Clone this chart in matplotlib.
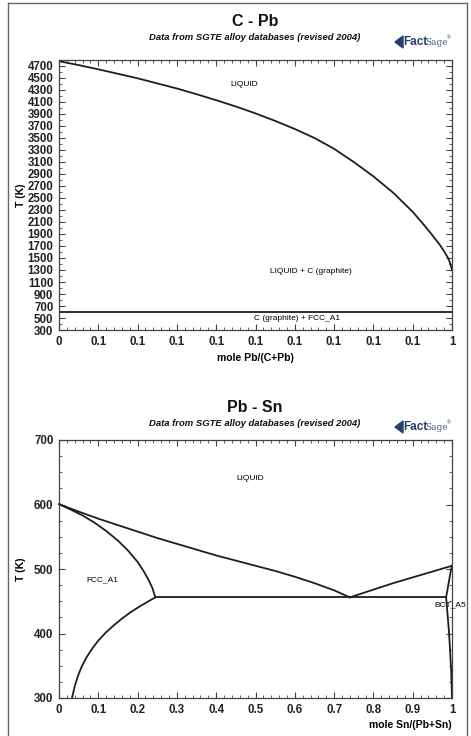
import matplotlib
matplotlib.use("Agg")
import matplotlib.pyplot as plt
from matplotlib import font_manager
from matplotlib.lines import Line2D
from matplotlib.patches import Polygon
from matplotlib.ticker import MultipleLocator, FixedLocator

# ---- C - Pb data ----
cpb_liq_x = [0.0, 0.05, 0.1, 0.15, 0.2, 0.25, 0.3, 0.35, 0.4, 0.45, 0.5, 0.55, 0.6,
             0.65, 0.7, 0.75, 0.8, 0.85, 0.9, 0.93, 0.95, 0.97, 0.98, 0.99, 0.995, 1.0]
cpb_liq_t = [4780, 4715, 4645, 4570, 4495, 4410, 4325, 4230, 4130, 4025, 3910, 3785, 3650,
             3500, 3320, 3100, 2860, 2590, 2270, 2040, 1880, 1710, 1610, 1500, 1420, 1300]
cpb_eut_t = 600.6
cpb_xticks = [0.0, 0.1, 0.2, 0.3, 0.4, 0.5, 0.6, 0.7, 0.8, 0.9, 1.0]
cpb_xticklabels = ["0", "0.1", "0.1", "0.1", "0.1", "0.1", "0.1", "0.1", "0.1", "0.1", "1"]
cpb_yticks = list(range(300, 4701, 200))

# ---- Pb - Sn data ----
pbsn_liq_left_x = [0.0, 0.05, 0.1, 0.15, 0.2, 0.25, 0.3, 0.35, 0.4, 0.45, 0.5,
                   0.55, 0.6, 0.65, 0.7, 0.74]
pbsn_liq_left_t = [600.6, 589, 578, 568, 558, 548, 539, 530, 521, 513, 505,
                   497, 488, 478, 467, 456]
pbsn_sol_fcc_x = [0.0, 0.03, 0.06, 0.09, 0.12, 0.15, 0.175, 0.2, 0.215, 0.228, 0.238, 0.245]
pbsn_sol_fcc_t = [600.6, 592, 583, 572, 559, 544, 529, 511, 497, 483, 470, 456]
pbsn_solv_fcc_x = [0.245, 0.225, 0.2, 0.18, 0.16, 0.14, 0.12, 0.1, 0.085, 0.07,
                   0.058, 0.048, 0.04, 0.033]
pbsn_solv_fcc_t = [456, 449, 440, 432, 423, 413, 402, 389, 377, 363,
                   349, 334, 318, 300]
pbsn_liq_right_x = [0.74, 0.8, 0.85, 0.9, 0.95, 1.0]
pbsn_liq_right_t = [456, 468, 478, 487, 496, 505]
pbsn_sol_bct_x = [1.0, 0.996, 0.992, 0.988, 0.985]
pbsn_sol_bct_t = [505, 494, 480, 466, 456]
pbsn_solv_bct_x = [0.985, 0.988, 0.992, 0.995, 0.998, 1.0]
pbsn_solv_bct_t = [456, 435, 405, 375, 340, 300]
pbsn_eut_x = [0.245, 0.985]
pbsn_eut_t = 456
pbsn_xticks = [0.0, 0.1, 0.2, 0.3, 0.4, 0.5, 0.6, 0.7, 0.8, 0.9, 1.0]
pbsn_xticklabels = ["0", "0.1", "0.2", "0.3", "0.4", "0.5", "0.6", "0.7", "0.8", "0.9", "1"]
pbsn_yticks = [300, 400, 500, 600, 700]

SUBTITLE = "Data from SGTE alloy databases (revised 2004)"
LINE = "#1e1e1e"
NAVY = "#2b3d6b"

W, H = 471, 736


def pick_font():
    names = {f.name for f in font_manager.fontManager.ttflist}
    for name in ["Liberation Sans Narrow", "Liberation Sans", "DejaVu Sans"]:
        if name in names:
            return name
    return "DejaVu Sans"


NARROW = pick_font()
plt.rcParams["font.family"] = ["Liberation Sans", "DejaVu Sans"]


def fx(px):
    return px / W


def fy(py):
    return 1 - py / H


def style_axes(ax):
    for s in ax.spines.values():
        s.set_color("#444444")
        s.set_linewidth(0.9)
    ax.tick_params(which="both", direction="in", top=True, right=True, colors="#444444")
    ax.tick_params(which="major", length=4, width=0.8, pad=4)
    ax.tick_params(which="minor", length=2, width=0.6)
    for lab in ax.get_xticklabels() + ax.get_yticklabels():
        lab.set_fontfamily(NARROW)
        lab.set_fontweight("bold")
        lab.set_fontsize(8.3)
        lab.set_color("#222222")
    ax.yaxis.set_label_coords(-0.085, 0.5)


def add_header(fig, title, y_title, y_sub, y_logo):
    fig.text(fx(255), fy(y_title), title, ha="center", va="center",
             fontsize=11.5, fontweight="bold", color="#111111")
    fig.text(fx(255), fy(y_sub), SUBTITLE, ha="center", va="center",
             fontsize=6.8, fontweight="bold", style="italic", color="#111111")
    # FactSage logo
    poly = Polygon([(fx(395), fy(y_logo)), (fx(403), fy(y_logo - 6)), (fx(403), fy(y_logo + 6))],
                   closed=True, transform=fig.transFigure, color=NAVY)
    fig.patches.append(poly)
    fig.text(fx(403), fy(y_logo), "Fact", ha="left", va="center",
             fontsize=8.5, fontweight="bold", color=NAVY)
    fig.text(fx(425), fy(y_logo + 0.5), "Sage", ha="left", va="center",
             fontsize=6.5, family="DejaVu Serif", color="#4a5a85")
    fig.text(fx(447), fy(y_logo - 4), "\u00ae", ha="left", va="center",
             fontsize=3.5, color=NAVY)


def draw_cpb(ax):
    ax.plot(cpb_liq_x, cpb_liq_t, color=LINE, lw=1.3)
    ax.axhline(cpb_eut_t, color=LINE, lw=1.3)
    ax.set_xlim(0, 1)
    ax.set_ylim(300, 4800)
    ax.xaxis.set_major_locator(FixedLocator(cpb_xticks))
    ax.set_xticklabels(cpb_xticklabels)
    ax.xaxis.set_minor_locator(MultipleLocator(0.02))
    ax.yaxis.set_major_locator(FixedLocator(cpb_yticks))
    ax.yaxis.set_minor_locator(MultipleLocator(100))
    ax.set_xlabel("mole Pb/(C+Pb)", fontsize=7.5, fontweight="bold", labelpad=4)
    ax.set_ylabel("T (K)", fontsize=7.5, fontweight="bold")
    ax.text(0.47, 4400, "LIQUID", fontsize=6, ha="center", va="center", family=NARROW)
    ax.text(0.64, 1280, "LIQUID + C (graphite)", fontsize=6, ha="center", va="center", family=NARROW)
    ax.text(0.605, 490, "C (graphite) + FCC_A1", fontsize=6, ha="center", va="center", family=NARROW)
    style_axes(ax)


def draw_pbsn(ax):
    for xs, ts in [(pbsn_liq_left_x, pbsn_liq_left_t),
                   (pbsn_sol_fcc_x, pbsn_sol_fcc_t),
                   (pbsn_solv_fcc_x, pbsn_solv_fcc_t),
                   (pbsn_liq_right_x, pbsn_liq_right_t),
                   (pbsn_sol_bct_x, pbsn_sol_bct_t),
                   (pbsn_solv_bct_x, pbsn_solv_bct_t)]:
        ax.plot(xs, ts, color=LINE, lw=1.3, clip_on=False)
    ax.plot(pbsn_eut_x, [pbsn_eut_t, pbsn_eut_t], color=LINE, lw=1.3)
    ax.set_xlim(0, 1)
    ax.set_ylim(300, 700)
    ax.xaxis.set_major_locator(FixedLocator(pbsn_xticks))
    ax.set_xticklabels(pbsn_xticklabels)
    ax.xaxis.set_minor_locator(MultipleLocator(0.02))
    ax.yaxis.set_major_locator(FixedLocator(pbsn_yticks))
    ax.yaxis.set_minor_locator(MultipleLocator(25))
    ax.set_ylabel("T (K)", fontsize=7.5, fontweight="bold")
    ax.text(0.486, 641, "LIQUID", fontsize=6, ha="center", va="center", family=NARROW)
    ax.text(0.11, 483, "FCC_A1", fontsize=6, ha="center", va="center", family=NARROW)
    ax.text(0.995, 444, "BCT_A5", fontsize=6, ha="center", va="center", family=NARROW)
    style_axes(ax)
    ax.text(1.0, -0.105, "mole Sn/(Pb+Sn)", transform=ax.transAxes, ha="right", va="center",
            fontsize=7.5, fontweight="bold")


def main():
    fig = plt.figure(figsize=(W / 100, H / 100), dpi=100)
    fig.patch.set_facecolor("white")

    ax1 = fig.add_axes([fx(59), fy(330), fx(393), 270 / H])
    draw_cpb(ax1)
    ax2 = fig.add_axes([fx(59), fy(698), fx(393), 258 / H])
    draw_pbsn(ax2)

    add_header(fig, "C - Pb", 22, 38, 42)
    add_header(fig, "Pb - Sn", 408, 423, 427)

    # outer frame
    for xs, ys in [([8, 8], [3, 736]), ([8, 467], [3, 3]), ([467, 467], [3, 736])]:
        fig.add_artist(Line2D([fx(v) for v in xs], [fy(v) for v in ys],
                              transform=fig.transFigure, color="#666666", lw=1.0))

    fig.savefig("out.png", dpi=100)
    plt.close(fig)


if __name__ == "__main__":
    main()
